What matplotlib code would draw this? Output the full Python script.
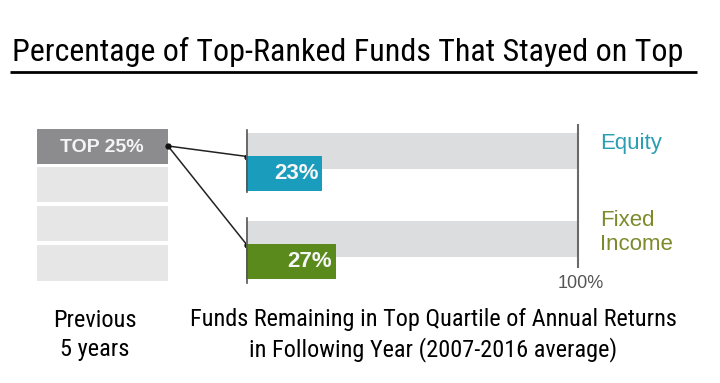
import matplotlib
matplotlib.use("Agg")
import matplotlib.pyplot as plt
from matplotlib import font_manager

title = "Percentage of Top-Ranked Funds That Stayed on Top"
categories = ["Equity", "Fixed\nIncome"]
values = [23, 27]
bar_labels = ["23%", "27%"]
quartile_labels = ["TOP 25%", "", "", ""]
left_caption = "Previous\n5 years"
bottom_caption = "Funds Remaining in Top Quartile of Annual Returns\nin Following Year (2007-2016 average)"
max_label = "100%"

entries = font_manager.fontManager.ttflist
names = {f.name for f in entries}
narrow_family, narrow_stretch = None, "normal"
for cand in ["Liberation Sans Narrow", "Roboto Condensed", "Open Sans Condensed",
             "Noto Sans Condensed", "Arial Narrow", "DejaVu Sans Condensed"]:
    if cand in names:
        narrow_family = cand
        break
if narrow_family is None:
    for f in entries:
        if f.name == "DejaVu Sans" and str(f.stretch) in ("condensed", "semi-condensed", "600", "500"):
            narrow_family, narrow_stretch = "DejaVu Sans", "condensed"
            break
if narrow_family is None:
    narrow_family = "Liberation Sans"
narrow = [narrow_family, "DejaVu Sans"]
plain = ["Liberation Sans", "DejaVu Sans"]

W, H = 720, 383
fig = plt.figure(figsize=(W / 100, H / 100), dpi=100)
fig.patch.set_facecolor("white")

ov = fig.add_axes([0, 0, 1, 1])
ov.set_xlim(0, W)
ov.set_ylim(H, 0)
ov.axis("off")

t_title = ov.text(12, 61, title, family=narrow, fontstretch=narrow_stretch, fontsize=26,
                  color="black", ha="left", va="baseline")
ov.plot([10, 697], [71.5, 71.5], color="black", lw=2, solid_capstyle="butt")

# left stack of quartiles
stack_y = [146.5, 184.5, 223.5, 263]
stack_colors = ["#8c8c8e", "#e6e6e7", "#e6e6e7", "#e6e6e7"]
ov.barh(stack_y, [131] * 4, left=37, height=[35, 35, 35, 36], color=stack_colors, lw=0)
for yy, lab in zip(stack_y, quartile_labels):
    if lab:
        ov.text(102, yy + 1, lab, family=plain, fontsize=14, fontweight="bold",
                color="#f4f4f4", ha="center", va="center")

# bar axes: x 246..578 px, y 120..290 px
x0, x1 = 246, 578
ytop, ybot = 120, 290
bx = fig.add_axes([x0 / W, 1 - ybot / H, (x1 - x0) / W, (ybot - ytop) / H])
bx.set_xlim(0, 100)
bx.set_ylim(ybot, ytop)
bx.axis("off")

bg_y = [151, 239]
fg_y = [173.5, 261.5]
fg_colors = ["#1a9cbc", "#5b8a1c"]
bx.barh(bg_y, [100, 100], height=36, color="#dcdddf", lw=0)
bx.barh(fg_y, values, height=35, color=fg_colors, lw=0)
for yy, v, lab in zip(fg_y, values, bar_labels):
    bx.text(v - 1.0, yy, lab, family=plain, fontsize=16, fontweight="bold",
            color="#f6f6f6", ha="right", va="center")

bx.plot([0.2, 0.2], [130, 192], color="#555555", lw=1.2, clip_on=False)
bx.plot([0.2, 0.2], [218, 283], color="#555555", lw=1.2, clip_on=False)
bx.plot([100, 100], [125, 267], color="#6a6a6a", lw=1.5, clip_on=False)
bx.text(100.8, 283, max_label, family=plain, fontsize=13, color="#555555",
        ha="center", va="center")

cat_colors = ["#2a9fb3", "#7c8a2c"]
cat_y = [143, 232.5]
for yy, c, col in zip(cat_y, categories, cat_colors):
    bx.text(106.6, yy, c, family=plain, fontsize=16, color=col, ha="left",
            va="center", linespacing=1.2, clip_on=False)

# connectors
start = (168, 146)
for yy in [156.5, 245]:
    ov.plot([start[0], 247], [start[1], yy], color="#222222", lw=1.1)
    ov.plot([247], [yy], "o", color="#111111", ms=3.5)
ov.plot([start[0]], [start[1]], "o", color="#111111", ms=3.5)

# captions
t_left = ov.text(95, 335, left_caption, family=narrow, fontstretch=narrow_stretch,
                 fontsize=16, ha="center", va="center", linespacing=1.35)
t_bottom = ov.text(433, 335, bottom_caption, family=narrow, fontstretch=narrow_stretch,
                   fontsize=16, ha="center", va="center", linespacing=1.35)

# fit narrow-font texts to the reference widths (in px)
fig.canvas.draw()
r = fig.canvas.get_renderer()
for t, target in [(t_title, 671), (t_left, 84), (t_bottom, 488)]:
    w = t.get_window_extent(r).width
    if w > 0:
        t.set_fontsize(t.get_fontsize() * target / w)

fig.savefig("out.png", dpi=100, facecolor="white")
